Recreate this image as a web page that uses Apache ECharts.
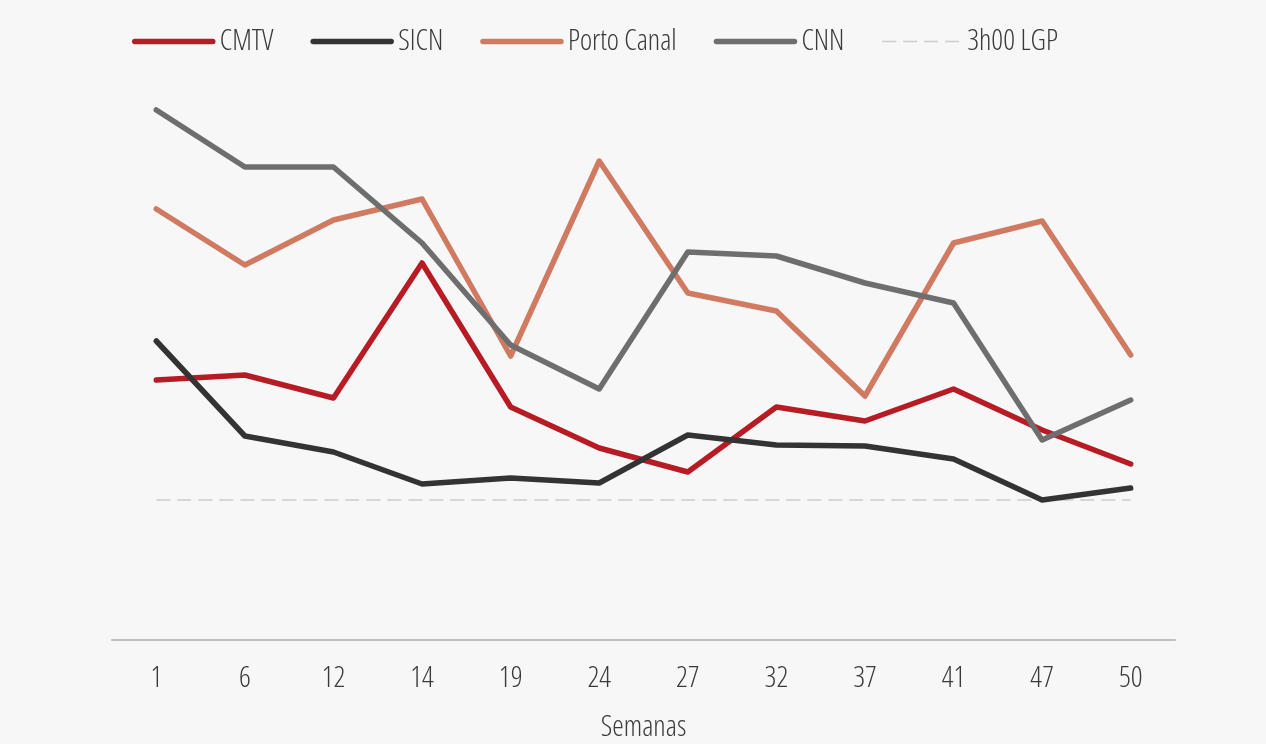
<!DOCTYPE html>
<html>
<head>
<meta charset="utf-8">
<script src="https://cdn.jsdelivr.net/npm/echarts@6/dist/echarts.min.js"></script>
<style>
html,body{margin:0;padding:0;background:#f7f7f7;}
#chart{width:1266px;height:744px;}
</style>
</head>
<body>
<div id="chart"></div>
<script>
const weeks = ['1','6','12','14','19','24','27','32','37','41','47','50'];
const cmtv = [260, 265, 242, 377, 233, 192, 168, 233, 219, 251, 210, 176];
const sicn = [299, 204, 188, 156, 162, 157, 205, 195, 194, 181, 140, 152];
const porto = [431, 375, 420, 441, 284, 479, 347, 329, 244, 397, 419, 285];
const cnn = [530, 473, 473, 397, 295, 251, 388, 384, 357, 337, 200, 240];
const lgp = [140, 140, 140, 140, 140, 140, 140, 140, 140, 140, 140, 140];

const FONT = '"Open Sans", sans-serif';
const TXT = {fontFamily: FONT, fontStyle: 'condensed', fontWeight: 300, fontSize: 29, color: '#3a3a3a'};
const chart = echarts.init(document.getElementById('chart'));
function mk(name, data, color, extra) {
  return Object.assign({
    name: name, type: 'line', data: data, showSymbol: false, symbol: 'none',
    lineStyle: {color: color, width: 5.5, cap: 'round', join: 'round'},
    itemStyle: {color: color}
  }, extra || {});
}
chart.setOption({
  backgroundColor: '#f7f7f7',
  animation: false,
  legend: {
    top: 22, left: 127,
    itemWidth: 78, itemHeight: 14, itemGap: 37,
    itemStyle: {opacity: 0},
    lineStyle: {width: 5.5, cap: 'round'},
    textStyle: Object.assign({padding: [0, 0, 0, 2]}, TXT),
    data: ['CMTV','SICN','Porto Canal','CNN',
      {name: '3h00 LGP', lineStyle: {width: 1.5, type: [14, 7], cap: 'butt'}}]
  },
  grid: {left: 112, right: 91, top: 40, bottom: 104, containLabel: false, outerBoundsMode: 'none'},
  xAxis: {
    type: 'category', data: weeks, boundaryGap: true,
    name: 'Semanas', nameLocation: 'middle', nameGap: 73,
    nameTextStyle: Object.assign({}, TXT),
    axisLine: {lineStyle: {color: '#c0c0c0', width: 2}},
    axisTick: {show: false},
    axisLabel: Object.assign({margin: 24}, TXT)
  },
  yAxis: {type: 'value', min: 0, max: 600, show: false, splitLine: {show: false}},
  series: [
    mk('CMTV', cmtv, '#b71c25'),
    mk('SICN', sicn, '#333333'),
    mk('Porto Canal', porto, '#d07a62'),
    mk('CNN', cnn, '#6e6e6e'),
    mk('3h00 LGP', lgp, '#cccccc', {lineStyle: {color: '#cccccc', width: 1.5, type: [14, 7]}, z: 1})
  ]
});
</script>
</body>
</html>
